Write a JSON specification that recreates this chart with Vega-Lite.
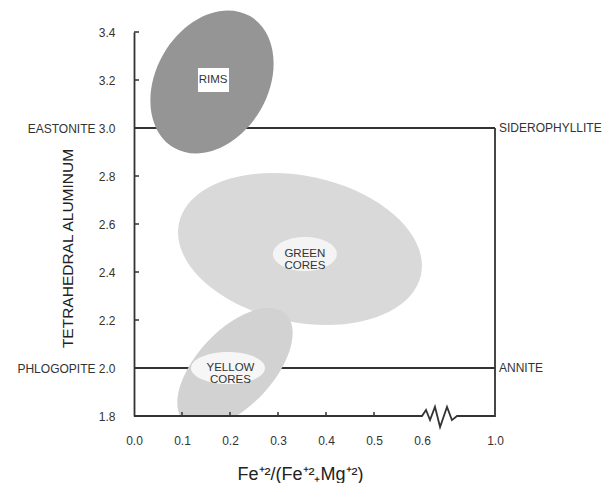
{
  "$schema": "https://vega.github.io/schema/vega-lite/v6.json",
  "width": 361,
  "height": 384,
  "autosize": {"type": "none"},
  "padding": {"left": 134, "top": 32, "right": 112, "bottom": 67},
  "background": "white",
  "config": {"view": {"stroke": null}},
  "encoding": {
    "x": {
      "field": "x", "type": "quantitative",
      "scale": {"domain": [0, 0.6, 1.0], "range": [0, 288, 361], "nice": false, "zero": false},
      "axis": {
        "values": [0, 0.1, 0.2, 0.3, 0.4, 0.5, 0.6, 1.0],
        "format": ".1f",
        "domain": false,
        "ticks": false,
        "labelPadding": 19, "labelFlush": false, "labelOverlap": false, "labelBound": false,
        "labelFont": "Liberation Sans", "labelFontSize": 12, "labelColor": "#333",
        "grid": false, "zindex": 1,
        "title": "Fe⁺²/(Fe⁺²₊Mg⁺²)",
        "titleFont": "Liberation Sans", "titleFontSize": 18, "titleFontWeight": "normal", "titleColor": "#222",
        "titleX": 166, "titleY": 58, "titleAlign": "center", "titleBaseline": "middle"
      }
    },
    "y": {
      "field": "y", "type": "quantitative",
      "scale": {"domain": [1.8, 3.4], "nice": false, "zero": false},
      "axis": {
        "values": [1.8, 2.0, 2.2, 2.4, 2.6, 2.8, 3.0, 3.2, 3.4],
        "labelExpr": "datum.value == 3 ? 'EASTONITE  3.0' : (datum.value == 2 ? 'PHLOGOPITE  2.0' : format(datum.value, '.1f'))",
        "domain": true, "domainColor": "#333", "domainWidth": 1.8,
        "ticks": false,
        "labelPadding": 19, "labelFont": "Liberation Sans", "labelFontSize": 12, "labelColor": "#333",
        "labelOverlap": false, "labelBound": false, "labelFlush": false,
        "grid": false, "zindex": 1,
        "title": "TETRAHEDRAL  ALUMINUM",
        "titleFont": "Liberation Sans", "titleFontSize": 15.5, "titleFontWeight": "normal", "titleColor": "#222",
        "titleX": -67, "titleY": 216, "titleAngle": -90, "titleAlign": "center", "titleBaseline": "middle"
      }
    }
  },
  "layer": [
    {
      "data": {"values": [
        {"seg": "top", "i": 0, "x": 0, "y": 3.0},
        {"seg": "top", "i": 1, "x": 1.0, "y": 3.0},
        {"seg": "mid", "i": 0, "x": 0, "y": 2.0},
        {"seg": "mid", "i": 1, "x": 1.0, "y": 2.0}
      ]},
      "mark": {"type": "line", "color": "#333", "strokeWidth": 1.8},
      "encoding": {"detail": {"field": "seg"}, "order": {"field": "i", "type": "quantitative"}}
    },
    {
      "data": {"values": [{"x": 0.1625, "y": 3.192}]},
      "mark": {"type": "point", "filled": true, "opacity": 1, "fill": "#959595", "strokeWidth": 0, "size": 23104, "angle": 30,
        "shape": "M 0.737 0 C 0.737 0.552 0.407 1 0 1 C -0.407 1 -0.737 0.552 -0.737 0 C -0.737 -0.552 -0.407 -1 0 -1 C 0.407 -1 0.737 -0.552 0.737 0 Z"}
    },
    {
      "data": {"values": [{"x": 0.3458, "y": 2.496}]},
      "mark": {"type": "point", "filled": true, "opacity": 1, "fill": "#d9d9d9", "strokeWidth": 0, "size": 61207, "angle": 12,
        "shape": "M 1 0 C 1 0.326 0.552 0.591 0 0.591 C -0.552 0.591 -1 0.326 -1 0 C -1 -0.326 -0.552 -0.591 0 -0.591 C 0.552 -0.591 1 -0.326 1 0 Z"}
    },
    {
      "data": {"values": [{"x": 0.2104, "y": 2.0}]},
      "mark": {"type": "point", "clip": true, "filled": true, "opacity": 1, "fill": "#d2d2d2", "strokeWidth": 0, "size": 21904, "angle": 43,
        "shape": "M 0.514 0 C 0.514 0.552 0.284 1 0 1 C -0.284 1 -0.514 0.552 -0.514 0 C -0.514 -0.552 -0.284 -1 0 -1 C 0.284 -1 0.514 -0.552 0.514 0 Z"}
    },
    {
      "data": {"values": [{"x": 0.356, "y": 2.475}]},
      "mark": {"type": "point", "filled": true, "opacity": 1, "fill": "#f4f4f4", "strokeWidth": 0, "size": 4096,
        "shape": "M 1 0 C 1 0.293 0.552 0.531 0 0.531 C -0.552 0.531 -1 0.293 -1 0 C -1 -0.293 -0.552 -0.531 0 -0.531 C 0.552 -0.531 1 -0.293 1 0 Z"}
    },
    {
      "data": {"values": [{"x": 0.1958, "y": 2.0}]},
      "mark": {"type": "point", "filled": true, "opacity": 1, "fill": "#f6f6f6", "strokeWidth": 0, "size": 5476,
        "shape": "M 1 0 C 1 0.239 0.552 0.432 0 0.432 C -0.552 0.432 -1 0.239 -1 0 C -1 -0.239 -0.552 -0.432 0 -0.432 C 0.552 -0.432 1 -0.239 1 0 Z"}
    },
    {
      "data": {"values": [{"x": 0.1333, "x2": 0.1979, "y": 3.25, "y2": 3.15}]},
      "mark": {"type": "rect", "fill": "white"},
      "encoding": {"x2": {"field": "x2"}, "y2": {"field": "y2"}}
    },
    {
      "data": {"values": [
        {"seg": "bottom", "i": 0, "x": 0, "y": 1.8},
        {"seg": "bottom", "i": 1, "x": 0.6, "y": 1.8},
        {"seg": "bottom", "i": 2, "x": 0.622, "y": 1.825},
        {"seg": "bottom", "i": 3, "x": 0.644, "y": 1.783},
        {"seg": "bottom", "i": 4, "x": 0.671, "y": 1.838},
        {"seg": "bottom", "i": 5, "x": 0.699, "y": 1.754},
        {"seg": "bottom", "i": 6, "x": 0.737, "y": 1.838},
        {"seg": "bottom", "i": 7, "x": 0.764, "y": 1.783},
        {"seg": "bottom", "i": 8, "x": 0.792, "y": 1.8},
        {"seg": "bottom", "i": 9, "x": 1.0, "y": 1.8},
        {"seg": "bottom", "i": 10, "x": 1.0, "y": 3.0}
      ]},
      "mark": {"type": "line", "color": "#333", "strokeWidth": 1.8, "strokeJoin": "miter"},
      "encoding": {"detail": {"field": "seg"}, "order": {"field": "i", "type": "quantitative"}}
    },
    {
      "data": {"values": [
        {"x": 0, "x2": 0.0104, "y": 2.2},
        {"x": 0, "x2": 0.0104, "y": 2.4},
        {"x": 0, "x2": 0.0104, "y": 2.6},
        {"x": 0, "x2": 0.0104, "y": 2.8},
        {"x": 0, "x2": 0.0104, "y": 3.2},
        {"x": 0, "x2": 0.0104, "y": 3.4}
      ]},
      "mark": {"type": "rule", "color": "#333", "strokeWidth": 1.5},
      "encoding": {"x2": {"field": "x2"}}
    },
    {
      "data": {"values": [
        {"x": 0.1, "y": 1.8, "y2": 1.8167},
        {"x": 0.2, "y": 1.8, "y2": 1.8167},
        {"x": 0.3, "y": 1.8, "y2": 1.8167},
        {"x": 0.4, "y": 1.8, "y2": 1.8167},
        {"x": 0.5, "y": 1.8, "y2": 1.8167}
      ]},
      "mark": {"type": "rule", "color": "#333", "strokeWidth": 1.5},
      "encoding": {"y2": {"field": "y2"}}
    },
    {
      "data": {"values": [
        {"x": 0.1646, "y": 3.202, "label": "RIMS"},
        {"x": 0.356, "y": 2.473, "label": "GREEN\nCORES"},
        {"x": 0.201, "y": 2.0, "label": "YELLOW\nCORES"}
      ]},
      "mark": {"type": "text", "font": "Liberation Sans", "fontSize": 11.5, "color": "#333", "align": "center", "baseline": "middle", "lineBreak": "\n", "lineHeight": 12},
      "encoding": {"text": {"field": "label", "type": "nominal"}}
    },
    {
      "data": {"values": [
        {"x": 1.0, "y": 3.0, "label": "SIDEROPHYLLITE"},
        {"x": 1.0, "y": 2.0, "label": "ANNITE"}
      ]},
      "mark": {"type": "text", "font": "Liberation Sans", "fontSize": 12, "color": "#333", "align": "left", "baseline": "middle", "dx": 4},
      "encoding": {"text": {"field": "label", "type": "nominal"}}
    }
  ]
}
